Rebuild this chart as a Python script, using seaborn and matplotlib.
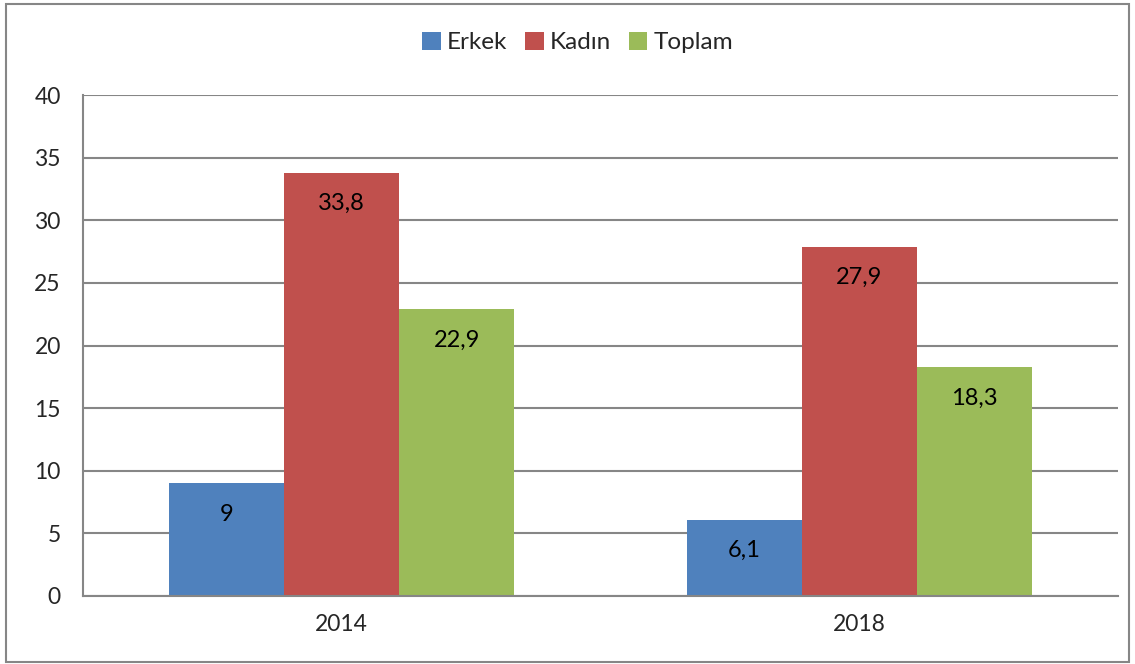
import matplotlib
matplotlib.use("Agg")
import matplotlib.pyplot as plt
import seaborn as sns
import pandas as pd
from matplotlib.patches import Rectangle

# veri
years = ["2014", "2018"]
groups = ["Erkek", "Kadın", "Toplam"]
erkek = [9, 6.1]
kadin = [33.8, 27.9]
toplam = [22.9, 18.3]
y_ticks = [0, 5, 10, 15, 20, 25, 30, 35, 40]

colors = ["#4F81BD", "#C0504D", "#9BBB59"]

df = pd.DataFrame({
    "Yıl": years * 3,
    "Grup": [g for g in groups for _ in years],
    "Değer": erkek + kadin + toplam,
})

sns.set_style("white")
plt.rcParams["font.family"] = ["Lato", "DejaVu Sans"]

fig = plt.figure(figsize=(11.35, 6.64), dpi=100)
ax = fig.add_axes([83 / 1135, 1 - 596 / 664, (1118 - 83) / 1135, (596 - 95) / 664])

sns.barplot(data=df, x="Yıl", y="Değer", hue="Grup", hue_order=groups,
            palette=colors, width=0.667, gap=0, saturation=1, ax=ax,
            edgecolor="none", linewidth=0)

# değer etiketleri
for cont in ax.containers:
    ax.bar_label(cont, labels=[f"{v:g}".replace(".", ",") for v in cont.datavalues],
                 padding=-30, fontsize=17, color="black")

ax.set_ylim(0, 40)
ax.set_xlim(-0.5, 1.5)
ax.set_yticks(y_ticks)
ax.set_yticklabels([str(t) for t in y_ticks], fontsize=16.5)
ax.tick_params(axis="x", labelsize=16.5, length=0, pad=13)
ax.set_xticks([-0.5, 0.5, 1.5], minor=True)
ax.tick_params(axis="x", which="minor", length=8, width=1.5, color="#868686", direction="out")
ax.tick_params(axis="y", length=7, width=1.5, color="#868686", direction="out", pad=9)
ax.set_xlabel("")
ax.set_ylabel("")

ax.yaxis.grid(True, color="#868686", linewidth=1.5)
ax.set_axisbelow(True)
for side in ["top", "right"]:
    ax.spines[side].set_visible(False)
for side in ["left", "bottom"]:
    ax.spines[side].set_color("#868686")
    ax.spines[side].set_linewidth(1.5)

ax.legend(loc="upper center", bbox_to_anchor=(0.478, 1.17), ncol=3, frameon=False,
          fontsize=17.5, handlelength=0.75, handleheight=0.75, handletextpad=0.25,
          columnspacing=0.75)

# dış çerçeve
fig.patches.append(Rectangle((6 / 1135, 2 / 664), 1123 / 1135, 658 / 664,
                             transform=fig.transFigure, fill=False,
                             edgecolor="#868686", linewidth=1.5))

fig.savefig("out.png", dpi=100)
